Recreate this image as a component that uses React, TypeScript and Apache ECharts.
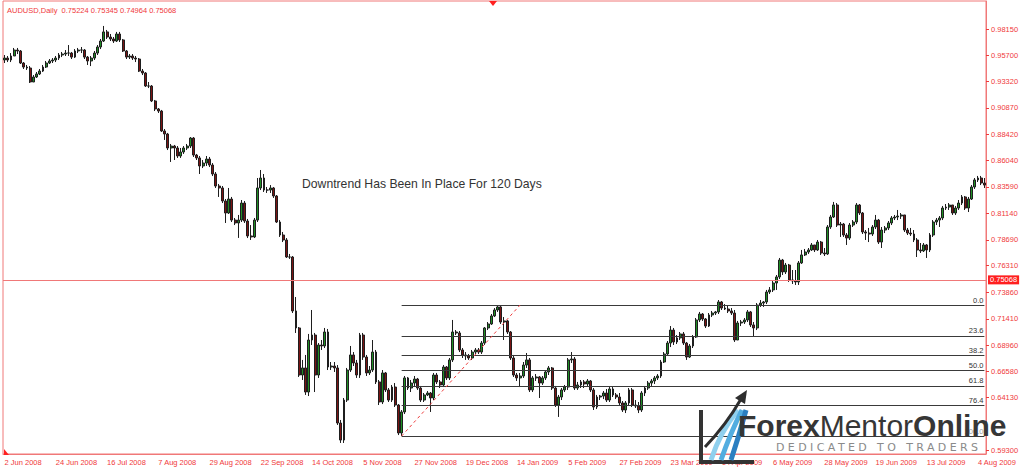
import React, { useEffect, useRef } from 'react';
import * as echarts from 'echarts';

const FIRST_DAY = '2008-06-02';
const LAST_DAY = '2009-08-06';
const HOLIDAYS = ['2008-12-25', '2009-01-01'];
const MONTH_NAMES = ['Jan', 'Feb', 'Mar', 'Apr', 'May', 'Jun', 'Jul', 'Aug', 'Sep', 'Oct', 'Nov', 'Dec'];

const OPEN_FIRST = 0.9529;
const CLOSE = [
  0.9547, 0.9529, 0.9566, 0.9621, 0.9612, 0.9501, 0.9464, 0.9455, 0.9326, 0.9372,
  0.9400, 0.9427, 0.9464, 0.9501, 0.9520, 0.9529, 0.9547, 0.9575, 0.9584, 0.9593,
  0.9593, 0.9556, 0.9612, 0.9621, 0.9621, 0.9556, 0.9520, 0.9547, 0.9593, 0.9649,
  0.9704, 0.9788, 0.9741, 0.9723, 0.9704, 0.9769, 0.9714, 0.9612, 0.9556, 0.9566,
  0.9547, 0.9538, 0.9427, 0.9409, 0.9289, 0.9289, 0.9151, 0.9077, 0.9058, 0.8874,
  0.8846, 0.8717, 0.8735, 0.8717, 0.8643, 0.8680, 0.8717, 0.8735, 0.8809, 0.8652,
  0.8625, 0.8551, 0.8578, 0.8615, 0.8560, 0.8477, 0.8366, 0.8348, 0.8228, 0.8117,
  0.8246, 0.8052, 0.8025, 0.8052, 0.8209, 0.8043, 0.7905, 0.7896, 0.8052, 0.8348,
  0.8440, 0.8329, 0.8329, 0.8348, 0.8274, 0.8034, 0.7914, 0.7868, 0.7711, 0.7711,
  0.7213, 0.7056, 0.6622, 0.6687, 0.6465, 0.6945, 0.6991, 0.6622, 0.6899, 0.6890,
  0.7019, 0.6696, 0.6705, 0.6687, 0.6179, 0.6022, 0.6391, 0.6668, 0.6807, 0.6733,
  0.6622, 0.6991, 0.6788, 0.6641, 0.6668, 0.6834, 0.6558, 0.6373, 0.6641, 0.6484,
  0.6391, 0.6511, 0.6345, 0.6087, 0.6281, 0.6595, 0.6502, 0.6548, 0.6585, 0.6502,
  0.6391, 0.6438, 0.6456, 0.6410, 0.6622, 0.6558, 0.6530, 0.6696, 0.6595, 0.6761,
  0.7019, 0.7010, 0.6853, 0.6807, 0.6798, 0.6779, 0.6834, 0.6853, 0.6834, 0.6917,
  0.7056, 0.7093, 0.7167, 0.7222, 0.7250, 0.7111, 0.7121, 0.7019, 0.6779, 0.6622,
  0.6595, 0.6613, 0.6714, 0.6761, 0.6484, 0.6595, 0.6604, 0.6548, 0.6595, 0.6650,
  0.6687, 0.6502, 0.6345, 0.6419, 0.6484, 0.6511, 0.6761, 0.6770, 0.6502, 0.6530,
  0.6558, 0.6539, 0.6567, 0.6484, 0.6327, 0.6419, 0.6428, 0.6456, 0.6391, 0.6493,
  0.6438, 0.6419, 0.6364, 0.6299, 0.6364, 0.6484, 0.6345, 0.6336, 0.6299, 0.6456,
  0.6502, 0.6548, 0.6567, 0.6595, 0.6613, 0.6742, 0.6816, 0.6917, 0.7037, 0.6927,
  0.6964, 0.7001, 0.6917, 0.6788, 0.6890, 0.6973, 0.7130, 0.7185, 0.7139, 0.7074,
  0.7176, 0.7194, 0.7204, 0.7296, 0.7240, 0.7231, 0.7213, 0.7194, 0.6945, 0.7102,
  0.7111, 0.7130, 0.7204, 0.7084, 0.7056, 0.7268, 0.7286, 0.7296, 0.7388, 0.7407,
  0.7471, 0.7527, 0.7683, 0.7573, 0.7637, 0.7499, 0.7490, 0.7481, 0.7656, 0.7730,
  0.7757, 0.7776, 0.7822, 0.7776, 0.7849, 0.7748, 0.7739, 0.7988, 0.8080, 0.8191,
  0.8006, 0.8015, 0.7914, 0.7886, 0.8006, 0.8034, 0.8191, 0.8117, 0.7942, 0.7932,
  0.7923, 0.7988, 0.8052, 0.7849, 0.7960, 0.7979, 0.8025, 0.8071, 0.8080, 0.8089,
  0.8099, 0.7960, 0.7932, 0.7923, 0.7868, 0.7776, 0.7767, 0.7822, 0.7776, 0.7914,
  0.8034, 0.8052, 0.8071, 0.8163, 0.8172, 0.8191, 0.8117, 0.8163, 0.8209, 0.8265,
  0.8163, 0.8246, 0.8357, 0.8422, 0.8440, 0.8394, 0.8375,
];
const HIGH = [
  0.9575, 0.9566, 0.9593, 0.9640, 0.9640, 0.9621, 0.9510, 0.9483, 0.9473, 0.9390,
  0.9418, 0.9446, 0.9483, 0.9520, 0.9538, 0.9547, 0.9566, 0.9593, 0.9603, 0.9621,
  0.9667, 0.9603, 0.9630, 0.9640, 0.9649, 0.9630, 0.9566, 0.9566, 0.9612, 0.9667,
  0.9723, 0.9843, 0.9806, 0.9769, 0.9741, 0.9788, 0.9788, 0.9723, 0.9621, 0.9584,
  0.9584, 0.9566, 0.9547, 0.9446, 0.9418, 0.9326, 0.9298, 0.9160, 0.9086, 0.9068,
  0.8892, 0.8856, 0.8754, 0.8745, 0.8735, 0.8717, 0.8735, 0.8754, 0.8818, 0.8818,
  0.8662, 0.8643, 0.8606, 0.8643, 0.8634, 0.8578, 0.8495, 0.8385, 0.8366, 0.8246,
  0.8348, 0.8265, 0.8071, 0.8099, 0.8237, 0.8228, 0.8062, 0.8006, 0.8071, 0.8440,
  0.8514, 0.8477, 0.8357, 0.8375, 0.8357, 0.8283, 0.8052, 0.7942, 0.7886, 0.7739,
  0.7720, 0.7342, 0.7065, 0.6761, 0.6807, 0.7001, 0.7222, 0.7010, 0.6917, 0.6945,
  0.7056, 0.7047, 0.6742, 0.6742, 0.6714, 0.6207, 0.6410, 0.6687, 0.6890, 0.6834,
  0.6761, 0.7010, 0.7010, 0.6807, 0.6705, 0.6945, 0.6853, 0.6576, 0.6668, 0.6650,
  0.6502, 0.6530, 0.6548, 0.6354, 0.6299, 0.6613, 0.6604, 0.6576, 0.6613, 0.6595,
  0.6521, 0.6456, 0.6474, 0.6465, 0.6641, 0.6641, 0.6576, 0.6714, 0.6705, 0.6779,
  0.7130, 0.7037, 0.7028, 0.6871, 0.6834, 0.6816, 0.6853, 0.6871, 0.6871, 0.6936,
  0.7065, 0.7111, 0.7185, 0.7240, 0.7268, 0.7268, 0.7157, 0.7130, 0.7028, 0.6807,
  0.6641, 0.6641, 0.6742, 0.6825, 0.6779, 0.6613, 0.6631, 0.6613, 0.6613, 0.6668,
  0.6705, 0.6696, 0.6521, 0.6438, 0.6502, 0.6530, 0.6779, 0.6834, 0.6788, 0.6558,
  0.6576, 0.6576, 0.6585, 0.6576, 0.6502, 0.6438, 0.6438, 0.6474, 0.6493, 0.6511,
  0.6511, 0.6456, 0.6456, 0.6382, 0.6382, 0.6502, 0.6502, 0.6391, 0.6373, 0.6474,
  0.6521, 0.6567, 0.6585, 0.6613, 0.6631, 0.6761, 0.6834, 0.6936, 0.7074, 0.7056,
  0.6991, 0.7019, 0.7019, 0.6927, 0.6908, 0.6991, 0.7148, 0.7204, 0.7194, 0.7148,
  0.7194, 0.7213, 0.7213, 0.7314, 0.7305, 0.7277, 0.7259, 0.7240, 0.7222, 0.7121,
  0.7130, 0.7148, 0.7222, 0.7213, 0.7111, 0.7286, 0.7314, 0.7305, 0.7407, 0.7434,
  0.7490, 0.7545, 0.7702, 0.7693, 0.7656, 0.7647, 0.7591, 0.7591, 0.7674, 0.7776,
  0.7785, 0.7794, 0.7840, 0.7822, 0.7868, 0.7859, 0.7794, 0.8006, 0.8099, 0.8219,
  0.8209, 0.8034, 0.8025, 0.7932, 0.8025, 0.8052, 0.8209, 0.8200, 0.8126, 0.7960,
  0.7979, 0.8006, 0.8099, 0.8062, 0.7988, 0.7997, 0.8043, 0.8089, 0.8099, 0.8145,
  0.8117, 0.8099, 0.7979, 0.7979, 0.7960, 0.7886, 0.7840, 0.7840, 0.7831, 0.7932,
  0.8052, 0.8071, 0.8089, 0.8182, 0.8200, 0.8209, 0.8191, 0.8182, 0.8237, 0.8283,
  0.8274, 0.8265, 0.8375, 0.8440, 0.8459, 0.8459, 0.8440,
];
const LOW = [
  0.9501, 0.9510, 0.9510, 0.9566, 0.9584, 0.9492, 0.9446, 0.9437, 0.9317, 0.9326,
  0.9363, 0.9390, 0.9418, 0.9455, 0.9492, 0.9501, 0.9510, 0.9529, 0.9556, 0.9566,
  0.9566, 0.9538, 0.9547, 0.9593, 0.9593, 0.9538, 0.9483, 0.9473, 0.9529, 0.9575,
  0.9630, 0.9695, 0.9723, 0.9704, 0.9686, 0.9695, 0.9695, 0.9603, 0.9538, 0.9538,
  0.9529, 0.9510, 0.9418, 0.9390, 0.9280, 0.9270, 0.9141, 0.9058, 0.9040, 0.8865,
  0.8791, 0.8698, 0.8588, 0.8606, 0.8625, 0.8625, 0.8662, 0.8698, 0.8717, 0.8634,
  0.8606, 0.8477, 0.8532, 0.8551, 0.8541, 0.8458, 0.8348, 0.8265, 0.8209, 0.8025,
  0.8108, 0.8034, 0.8006, 0.7887, 0.8034, 0.8025, 0.7886, 0.7868, 0.7886, 0.8034,
  0.8329, 0.8311, 0.8302, 0.8302, 0.8256, 0.8025, 0.7896, 0.7849, 0.7702, 0.7693,
  0.7194, 0.7010, 0.6604, 0.6576, 0.6438, 0.6428, 0.6899, 0.6465, 0.6595, 0.6853,
  0.6871, 0.6668, 0.6668, 0.6650, 0.6161, 0.5995, 0.5995, 0.6373, 0.6650, 0.6705,
  0.6595, 0.6595, 0.6761, 0.6613, 0.6622, 0.6650, 0.6539, 0.6345, 0.6354, 0.6465,
  0.6373, 0.6373, 0.6327, 0.6068, 0.6059, 0.6262, 0.6484, 0.6465, 0.6521, 0.6484,
  0.6373, 0.6373, 0.6428, 0.6281, 0.6391, 0.6539, 0.6502, 0.6511, 0.6576, 0.6576,
  0.6742, 0.6991, 0.6834, 0.6779, 0.6761, 0.6761, 0.6761, 0.6816, 0.6816, 0.6816,
  0.6899, 0.7037, 0.7084, 0.7157, 0.7204, 0.7093, 0.6945, 0.7001, 0.6761, 0.6604,
  0.6567, 0.6511, 0.6595, 0.6687, 0.6465, 0.6465, 0.6567, 0.6410, 0.6530, 0.6576,
  0.6622, 0.6484, 0.6327, 0.6235, 0.6391, 0.6465, 0.6484, 0.6733, 0.6484, 0.6484,
  0.6502, 0.6502, 0.6521, 0.6465, 0.6299, 0.6308, 0.6391, 0.6400, 0.6373, 0.6373,
  0.6419, 0.6400, 0.6345, 0.6281, 0.6271, 0.6345, 0.6327, 0.6318, 0.6271, 0.6281,
  0.6428, 0.6484, 0.6521, 0.6539, 0.6576, 0.6595, 0.6733, 0.6807, 0.6880, 0.6899,
  0.6908, 0.6945, 0.6899, 0.6761, 0.6779, 0.6871, 0.6964, 0.7111, 0.7121, 0.7056,
  0.7065, 0.7157, 0.7176, 0.7185, 0.7222, 0.7222, 0.7194, 0.7176, 0.6927, 0.6945,
  0.7074, 0.7093, 0.7111, 0.7065, 0.6973, 0.7037, 0.7250, 0.7250, 0.7277, 0.7370,
  0.7388, 0.7407, 0.7508, 0.7545, 0.7554, 0.7481, 0.7462, 0.7453, 0.7453, 0.7647,
  0.7720, 0.7739, 0.7767, 0.7757, 0.7767, 0.7730, 0.7720, 0.7730, 0.7970, 0.8071,
  0.7988, 0.7896, 0.7896, 0.7822, 0.7868, 0.7988, 0.8015, 0.8099, 0.7923, 0.7868,
  0.7849, 0.7905, 0.7969, 0.7831, 0.7794, 0.7932, 0.7960, 0.8006, 0.8052, 0.8052,
  0.8062, 0.7942, 0.7914, 0.7905, 0.7849, 0.7711, 0.7748, 0.7757, 0.7702, 0.7757,
  0.7896, 0.8006, 0.7988, 0.8052, 0.8145, 0.8145, 0.8099, 0.8099, 0.8145, 0.8191,
  0.8145, 0.8126, 0.8237, 0.8339, 0.8403, 0.8375, 0.8348,
];

const Y_TICKS = [
  0.9815, 0.957, 0.9332, 0.9087, 0.8842, 0.8604, 0.8359, 0.8114, 0.7869, 0.7631,
  0.7386, 0.7141, 0.6896, 0.6658, 0.6413, 0.593,
];
const Y_MIN = 0.58931;
const Y_MAX = 1.00734;
const LAST_PRICE = 0.75068;
const HEADER = 'AUDUSD,Daily  0.75224 0.75345 0.74964 0.75068';
const FIB_START_INDEX = 124;
const FIB_END_INDEX = 161;
const FIB_LOW = 0.6059;
const FIB_HIGH = 0.7268;
const FIB_LEVELS = [0, 23.6, 38.2, 50, 61.8, 76.4, 100];
const ANNOTATION = 'Downtrend Has Been In Place For 120 Days';
const BRAND_PARTS = ['Forex', 'Mentor', 'Online'];
const TAGLINE = 'DEDICATED TO TRADERS';

const RED_TEXT = '#f0393b';
const RED_LINE = '#f07878';
const AXIS_FONT = 'Liberation Sans';

function buildDays(): string[] {
  const out: string[] = [];
  const d = new Date(FIRST_DAY + 'T00:00:00Z');
  const end = new Date(LAST_DAY + 'T00:00:00Z');
  while (d.getTime() <= end.getTime()) {
    const wd = d.getUTCDay();
    const iso = d.toISOString().slice(0, 10);
    if (wd !== 0 && wd !== 6 && HOLIDAYS.indexOf(iso) < 0) out.push(iso);
    d.setUTCDate(d.getUTCDate() + 1);
  }
  return out;
}

function fmtDay(v: string): string {
  const [y, m, d] = v.split('-');
  return `${Number(d)} ${MONTH_NAMES[Number(m) - 1]} ${y}`;
}

export default function App() {
  const ref = useRef<HTMLDivElement>(null);

  useEffect(() => {
    if (!ref.current) return;
    const chart = echarts.init(ref.current, undefined, { renderer: 'svg' });
    const days = buildDays();
    const candles = CLOSE.map((c, i) => [i === 0 ? OPEN_FIRST : CLOSE[i - 1], c, LOW[i], HIGH[i]]);
    const last = days[days.length - 1];

    const fibLines = FIB_LEVELS.map((l) => {
      const v = FIB_HIGH - ((FIB_HIGH - FIB_LOW) * l) / 100;
      return [
        {
          coord: [days[FIB_START_INDEX], v],
          lineStyle: { color: '#3a3a3a', width: 1, type: 'solid' },
          label: {
            show: true,
            position: 'insideEndTop',
            formatter: l.toFixed(1),
            color: l === 100 ? '#9a9a9a' : '#333',
            fontSize: 7.5,
            fontFamily: AXIS_FONT,
            distance: [1, 1],
          },
        },
        { coord: [last, v] },
      ];
    });

    chart.setOption({
      animation: false,
      backgroundColor: '#ffffff',
      grid: {
        left: 3,
        right: 38,
        top: 1,
        bottom: 15,
        show: true,
        borderColor: RED_LINE,
        borderWidth: 1,
      },
      xAxis: {
        type: 'category',
        data: days,
        boundaryGap: true,
        axisLine: { lineStyle: { color: RED_LINE, width: 1 } },
        axisTick: {
          alignWithLabel: true,
          interval: 15,
          length: 3,
          lineStyle: { color: RED_TEXT },
        },
        axisLabel: {
          interval: 15,
          align: 'left',
          margin: 4,
          color: RED_TEXT,
          fontSize: 7.5,
          fontFamily: AXIS_FONT,
          formatter: (v: string) => fmtDay(v),
        },
        splitLine: { show: false },
      },
      yAxis: {
        type: 'value',
        position: 'right',
        min: Y_MIN,
        max: Y_MAX,
        scale: true,
        axisLine: { show: true, lineStyle: { color: RED_LINE, width: 1 } },
        axisTick: {
          show: true,
          length: 3,
          customValues: Y_TICKS,
          lineStyle: { color: RED_TEXT },
        },
        axisLabel: {
          customValues: Y_TICKS,
          margin: 5,
          color: RED_TEXT,
          fontSize: 7.5,
          fontFamily: AXIS_FONT,
          formatter: (v: number) => v.toFixed(5),
        },
        splitLine: { show: false },
      },
      series: [
        {
          type: 'candlestick',
          data: candles,
          barWidth: 2.4,
          itemStyle: {
            color: '#1f8f25',
            color0: '#7a1414',
            borderColor: '#1e1e1e',
            borderColor0: '#1e1e1e',
            borderWidth: 1,
          },
          markLine: {
            silent: true,
            symbol: ['none', 'none'],
            animation: false,
            data: [
              ...fibLines,
              [
                {
                  coord: [days[FIB_START_INDEX], FIB_LOW],
                  lineStyle: { color: '#ee3b3b', width: 1, type: [3, 3] },
                  label: { show: false },
                },
                { coord: [days[FIB_END_INDEX], FIB_HIGH] },
              ],
              {
                yAxis: LAST_PRICE,
                lineStyle: { color: RED_LINE, width: 1, type: 'solid' },
                label: {
                  show: true,
                  position: 'end',
                  formatter: LAST_PRICE.toFixed(5),
                  color: '#ffffff',
                  backgroundColor: '#ff1f1f',
                  padding: [1, 2, 0, 2],
                  fontSize: 7.5,
                  fontFamily: AXIS_FONT,
                  distance: 2,
                },
              },
            ],
          },
        },
      ],
      graphic: [
        {
          type: 'text',
          x: 7,
          y: 10,
          z: 50,
          style: {
            text: HEADER,
            fill: RED_TEXT,
            font: `7.5px "${AXIS_FONT}"`,
            textAlign: 'left',
            textVerticalAlign: 'middle',
            align: 'left',
            verticalAlign: 'middle',
          },
        },
        {
          type: 'polygon',
          z: 50,
          shape: { points: [[489, 1], [497, 1], [493, 6]] },
          style: { fill: '#ff2020' },
        },
        {
          type: 'polygon',
          z: 50,
          shape: { points: [[4, 449], [4, 455], [9, 455]] },
          style: { fill: '#ff2020' },
        },
        {
          type: 'text',
          x: 302,
          y: 184,
          z: 50,
          style: {
            text: ANNOTATION,
            fill: '#333333',
            font: '12.2px "Liberation Sans"',
            textAlign: 'left',
            textVerticalAlign: 'middle',
            align: 'left',
            verticalAlign: 'middle',
          },
        },
        // logo icon
        {
          type: 'polyline',
          z: 60,
          shape: { points: [[701, 410], [701, 462], [754, 462]] },
          style: { stroke: '#333333', lineWidth: 4, fill: 'none' },
        },
        {
          type: 'bezierCurve',
          z: 60,
          shape: { x1: 711, y1: 460, cpx1: 720, cpy1: 432, x2: 738, y2: 410 },
          style: { stroke: '#8fd0ee', lineWidth: 5, fill: 'none' },
        },
        {
          type: 'bezierCurve',
          z: 60,
          shape: { x1: 721, y1: 460, cpx1: 730, cpy1: 434, x2: 742, y2: 410 },
          style: { stroke: '#52ade0', lineWidth: 5, fill: 'none' },
        },
        {
          type: 'bezierCurve',
          z: 60,
          shape: { x1: 731, y1: 460, cpx1: 739, cpy1: 436, x2: 746, y2: 410 },
          style: { stroke: '#2b7fc1', lineWidth: 5, fill: 'none' },
        },
        {
          type: 'bezierCurve',
          z: 61,
          shape: { x1: 705, y1: 447, cpx1: 726, cpy1: 425, x2: 741, y2: 399 },
          style: { stroke: '#2e2e2e', lineWidth: 3, fill: 'none' },
        },
        {
          type: 'polygon',
          z: 61,
          shape: { points: [[735, 398], [747, 390], [745, 404]] },
          style: { fill: '#2e2e2e' },
        },
        {
          type: 'text',
          x: 738,
          y: 425,
          z: 60,
          style: {
            text: `{a|${BRAND_PARTS[0]}}{b|${BRAND_PARTS[1]}}{a|${BRAND_PARTS[2]}}`,
            textAlign: 'left',
            textVerticalAlign: 'middle',
            align: 'left',
            verticalAlign: 'middle',
            rich: {
              a: { fill: '#363636', fontSize: 30, fontWeight: 'bold', fontFamily: 'Liberation Sans' },
              b: { fill: '#363636', fontSize: 30, fontWeight: 'normal', fontFamily: 'Liberation Sans' },
            },
          },
        },
        {
          type: 'text',
          x: 776,
          y: 447,
          z: 60,
          style: {
            text: TAGLINE,
            fill: '#8a8a8a',
            font: '11px "DejaVu Sans"',
            textAlign: 'left',
            textVerticalAlign: 'middle',
            align: 'left',
            verticalAlign: 'middle',
          },
        },
      ],
    });

    const texts = ref.current.querySelectorAll('text');
    texts.forEach((t) => {
      if (t.textContent === TAGLINE) t.setAttribute('letter-spacing', '3.4');
    });

    return () => chart.dispose();
  }, []);

  return (
    <div
      ref={ref}
      style={{ position: 'fixed', left: 0, top: 0, width: 1024, height: 469, background: '#fff' }}
    />
  );
}
